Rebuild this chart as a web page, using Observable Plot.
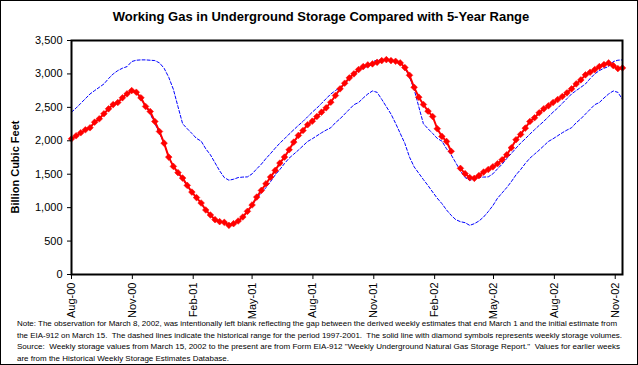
<!DOCTYPE html>
<html>
<head>
<meta charset="utf-8">
<script src="https://cdn.jsdelivr.net/npm/d3@7"></script>
<script src="https://cdn.jsdelivr.net/npm/@observablehq/plot@0.6"></script>
<style>
  html, body { margin: 0; padding: 0; background: #fff; }
  #chart { position: relative; width: 638px; height: 365px; background: #fff; overflow: hidden;
           font-family: "Liberation Sans", Arial, sans-serif; color: #000; }
  #border { position: absolute; left: 0; top: 0; width: 638px; height: 365px; box-sizing: border-box;
            border: 1px solid #000; pointer-events: none; }
  #title { position: absolute; left: 0; top: 9px; width: 642px; text-align: center;
           font-weight: bold; font-size: 13px; line-height: 15px; white-space: nowrap; }
  #ylabel { position: absolute; left: 15px; top: 167px; transform: translate(-50%, -50%) rotate(-90deg);
            font-weight: bold; font-size: 11px; white-space: nowrap; }
  #plot { position: absolute; left: 0; top: 0; }
  #notes { position: absolute; left: 0; top: 0; }
</style>
</head>
<body>
<div id="chart">
  <div id="plot"></div>
  <div id="title">Working Gas in Underground Storage Compared with 5-Year Range</div>
  <div id="ylabel">Billion Cubic Feet</div>
  <svg id="notes" width="638" height="365"></svg>
  <div id="border"></div>
</div>
<script>
// Weekly working gas in storage (Bcf), week ending Fridays from Aug 4, 2000 to Nov 15, 2002.
// March 8, 2002 is intentionally blank (null).
const storage = [
  2030, 2075, 2120, 2165, 2195, 2278, 2329, 2404, 2478, 2542,
  2572, 2643, 2702, 2751, 2726, 2643, 2513, 2438, 2289, 2139,
  1965, 1756, 1617, 1523, 1442, 1333, 1233, 1150, 1069, 965,
  890, 820, 790, 780, 735, 760, 800, 860, 945, 1040,
  1158, 1258, 1358, 1457, 1557, 1666, 1756, 1866, 1980, 2080,
  2154, 2240, 2293, 2363, 2428, 2493, 2577, 2677, 2777, 2861,
  2941, 3001, 3065, 3110, 3135, 3150, 3174, 3199, 3214, 3199,
  3189, 3165, 3095, 2980, 2800, 2652, 2543, 2443, 2363, 2180,
  2065, 1990, 1843, null, 1588, 1508, 1450, 1438, 1480, 1532,
  1570, 1610, 1657, 1717, 1791, 1896, 2016, 2095, 2189, 2289,
  2344, 2419, 2478, 2523, 2572, 2617, 2662, 2717, 2777, 2851,
  2911, 2986, 3025, 3065, 3110, 3140, 3165, 3125, 3080, 3090
];

// Historical 5-year (1997-2001) range, upper bound, same weeks
const rangeHigh = [
  2428, 2490, 2560, 2630, 2700, 2751, 2800, 2850, 2930, 3000,
  3050, 3085, 3110, 3185, 3205, 3210, 3210, 3205, 3200, 3165,
  3085, 2950, 2770, 2510, 2255, 2180, 2110, 2035, 1995, 1880,
  1790, 1670, 1550, 1450, 1410, 1425, 1450, 1457, 1460, 1505,
  1580, 1650, 1735, 1810, 1890, 1965, 2030, 2100, 2165, 2230,
  2290, 2360,
  2428, 2490, 2560, 2630, 2700, 2751, 2800, 2850, 2930, 3000,
  3050, 3085, 3110, 3185, 3205, 3210, 3210, 3205, 3200, 3165,
  3085, 2950, 2770, 2510, 2255, 2180, 2110, 2035, 1995, 1880,
  1790, 1670, 1550, 1450, 1410, 1425, 1450, 1457, 1460, 1505,
  1580, 1650, 1735, 1810, 1890, 1965, 2030, 2100, 2165, 2230,
  2290, 2360,
  2428, 2490, 2560, 2630, 2700, 2751, 2800, 2850, 2930, 3000,
  3050, 3085, 3110, 3185, 3205, 3210
];

// Historical 5-year (1997-2001) range, lower bound, same weeks
const rangeLow = [
  2030, 2075, 2120, 2160, 2195, 2270, 2329, 2400, 2470, 2540,
  2572, 2640, 2700, 2745, 2725, 2620, 2510, 2400, 2260, 2110,
  1960, 1756, 1610, 1515, 1420, 1330, 1233, 1140, 1060, 965,
  885, 820, 790, 775, 735, 760, 800, 860, 940, 1030,
  1140, 1220, 1300, 1390, 1490, 1570, 1660, 1740, 1800, 1860,
  1925, 1990,
  2030, 2075, 2120, 2160, 2195, 2270, 2329, 2400, 2470, 2540,
  2572, 2640, 2700, 2745, 2725, 2620, 2510, 2400, 2260, 2110,
  1960, 1756, 1610, 1515, 1420, 1330, 1233, 1140, 1060, 965,
  885, 820, 790, 775, 735, 760, 800, 860, 940, 1030,
  1140, 1220, 1300, 1390, 1490, 1570, 1660, 1740, 1800, 1860,
  1925, 1990,
  2030, 2075, 2120, 2160, 2195, 2270, 2329, 2400, 2470, 2540,
  2572, 2640, 2700, 2745, 2725, 2620
];

const xTickDates = ["2000-08-04", "2000-11-04", "2001-02-04", "2001-05-04", "2001-08-04",
                    "2001-11-04", "2002-02-04", "2002-05-04", "2002-08-04", "2002-11-04"];
const yTicks = [0, 500, 1000, 1500, 2000, 2500, 3000, 3500];

const noteLines = [
  "Note: The observation for March 8, 2002, was intentionally left blank reflecting the gap between the derived weekly estimates that end March 1 and the initial estimate from",
  "the EIA-912 on March 15.  The dashed lines indicate the historical range for the period 1997-2001.  The solid line with diamond symbols represents weekly storage volumes.",
  "Source:  Weekly storage values from March 15, 2002 to the present are from Form EIA-912 \"Weekly Underground Natural Gas Storage Report.\"  Values for earlier weeks",
  "are from the Historical Weekly Storage Estimates Database."
];

const weekEnding = d3.utcFriday.range(new Date(Date.UTC(2000, 7, 4)), new Date(Date.UTC(2002, 10, 16)));
const rows = weekEnding.map((date, i) => ({date, storage: storage[i], high: rangeHigh[i], low: rangeLow[i]}));
const tickDates = xTickDates.map(s => new Date(s + "T00:00:00Z"));

const chart = Plot.plot({
  width: 638,
  height: 330,
  marginLeft: 71,
  marginRight: 16,
  marginTop: 40,
  marginBottom: 56,
  style: {fontFamily: "'Liberation Sans', Arial, sans-serif", fontSize: "11px", color: "#000", background: "transparent", overflow: "visible"},
  x: {type: "utc", domain: [weekEnding[0], weekEnding[weekEnding.length - 1]]},
  y: {domain: [0, 3500]},
  marks: [
    Plot.line(rows, {x: "date", y: "high", stroke: "#0000ff", strokeWidth: 1, strokeDasharray: "3,2"}),
    Plot.line(rows, {x: "date", y: "low", stroke: "#0000ff", strokeWidth: 1, strokeDasharray: "3,2"}),
    Plot.line(rows, {x: "date", y: "storage", stroke: "#ff0000", strokeWidth: 2}),
    Plot.dot(rows.filter(d => d.storage != null), {x: "date", y: "storage", symbol: "diamond2", r: 3, fill: "#ff0000", stroke: "#ff0000", strokeWidth: 0.5}),
    Plot.axisY({ticks: yTicks, tickFormat: d3.format(","), tickSize: 4, tickPadding: 5, label: null, stroke: "#000"}),
    Plot.axisX({ticks: tickDates, tickFormat: d3.utcFormat("%b-%y"), tickSize: 5, tickPadding: 3, tickRotate: -90, label: null, stroke: "#000"}),
    Plot.frame({stroke: "#000", strokeWidth: 2})
  ]
});
document.getElementById("plot").appendChild(chart);

// notes text
const notes = d3.select("#notes");
const lineWidths = [600, 605, 603, 212];
noteLines.forEach((t, i) => {
  notes.append("text")
    .attr("x", 17)
    .attr("y", 326 + i * 11.5)
    .attr("font-family", "'Liberation Sans', Arial, sans-serif")
    .attr("font-size", 8)
    .attr("textLength", lineWidths[i])
    .attr("lengthAdjust", "spacingAndGlyphs")
    .attr("xml:space", "preserve")
    .text(t);
});
</script>
</body>
</html>
